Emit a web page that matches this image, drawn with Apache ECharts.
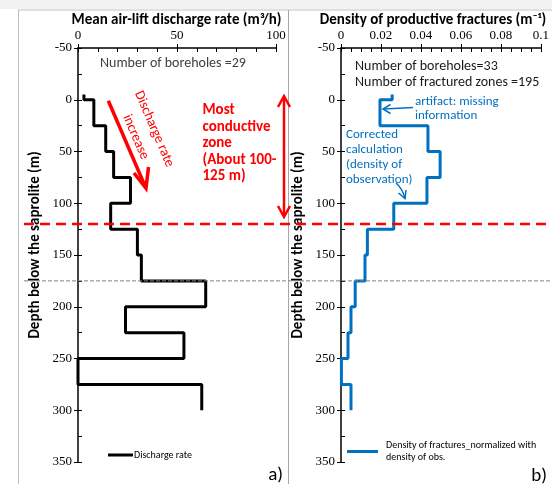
<!DOCTYPE html>
<html><head><meta charset="utf-8">
<script src="https://cdn.jsdelivr.net/npm/echarts@6/dist/echarts.min.js"></script>
<style>html,body{margin:0;padding:0;background:#fff}#c{width:552px;height:484px}</style>
</head><body><div id="c"></div>
<script>
// ---- data ----
const dischargeDepths = [-5, 0, 25, 50, 75, 100, 125, 150, 175, 200, 225, 250, 275, 300];
const dischargeValues = [3, 8, 14, 18, 26.5, 16.5, 30, 32, 64.5, 24, 53.5, 0, 62.5];
const densityDepths = [-5, 0, 25, 50, 75, 100, 125, 150, 175, 200, 225, 250, 275, 300];
const densityValues = [0.0256, 0.0195, 0.0435, 0.0496, 0.043, 0.0264, 0.0132, 0.012, 0.0071, 0.005, 0.0035, 0.0002, 0.005];
const depthRange = [-50, 350];
const depthInterval = 50;
const dischargeRange = [0, 100];
const dischargeInterval = 50;
const densityRange = [0, 0.1];
const densityInterval = 0.02;
const conductiveDepth = 120;
const boundaryDepth = 175;

const SANS = 'Carlito, Lato, "Liberation Sans", sans-serif';
const SERIF = '"Liberation Serif", "DejaVu Serif", serif';

function steps(depths, vals) {
  const pts = [];
  for (let i = 0; i < vals.length; i++) {
    pts.push([vals[i], depths[i]]);
    pts.push([vals[i], depths[i + 1]]);
  }
  return pts;
}

const grids = [
  { left: 78, top: 48, width: 198, height: 414 },
  { left: 341, top: 48, width: 201.6, height: 414 }
];

function xAxes(g, range, interval, minorSplit) {
  return [
    { gridIndex: g, type: 'value', position: 'top', min: range[0], max: range[1], interval: interval,
      axisLine: { show: true, onZero: false, lineStyle: { color: '#000', width: 1.5 } },
      axisTick: { show: true, inside: true, length: 4, lineStyle: { color: '#000', width: 1 } },
      minorTick: { show: true, splitNumber: minorSplit, length: 4, lineStyle: { color: '#000', width: 1 } },
      splitLine: { show: false },
      axisLabel: { color: '#000', fontFamily: SERIF, fontSize: 13, margin: 6 } },
    { gridIndex: g, type: 'value', position: 'top', min: range[0], max: range[1], interval: interval,
      axisLine: { show: false, onZero: false },
      axisTick: { show: true, inside: false, length: 4, lineStyle: { color: '#000', width: 1 } },
      splitLine: { show: false }, axisLabel: { show: false } }
  ];
}
function yAxes(g) {
  return [
    { gridIndex: g, type: 'value', position: 'left', inverse: true, min: depthRange[0], max: depthRange[1], interval: depthInterval,
      name: 'Depth below the saprolite (m)', nameLocation: 'middle', nameGap: 35,
      nameTextStyle: { color: '#000', fontWeight: 'bold', fontSize: 15, fontFamily: SANS, padding: [0, 0, 0, 20] },
      axisLine: { show: true, onZero: false, lineStyle: { color: '#000', width: 1.5 } },
      axisTick: { show: true, inside: true, length: 4, lineStyle: { color: '#000', width: 1 } },
      minorTick: { show: true, splitNumber: 2, length: 4, lineStyle: { color: '#000', width: 1 } },
      splitLine: { show: false },
      axisLabel: { color: '#000', fontFamily: SERIF, fontSize: 13, margin: 6 } },
    { gridIndex: g, type: 'value', position: 'left', inverse: true, min: depthRange[0], max: depthRange[1], interval: depthInterval,
      axisLine: { show: false, onZero: false },
      axisTick: { show: true, inside: false, length: 4, lineStyle: { color: '#000', width: 1 } },
      splitLine: { show: false }, axisLabel: { show: false } }
  ];
}

const chart = echarts.init(document.getElementById('c'), null, { renderer: 'canvas' });
const densityName = 'Density of fractures_normalized with density of obs.';
chart.setOption({
  backgroundColor: '#fff',
  animation: false,
  grid: grids,
  xAxis: xAxes(0, dischargeRange, dischargeInterval, 5).concat(xAxes(1, densityRange, densityInterval, 4)),
  yAxis: yAxes(0).concat(yAxes(1)),
  legend: [
    { data: ['Discharge rate'], left: 103, top: 445, icon: 'rect', itemWidth: 25, itemHeight: 3, itemGap: 0,
      textStyle: { fontSize: 10, fontFamily: SANS, color: '#000', padding: [0, 0, 0, -4] } },
    { data: [densityName], left: 342, top: 434, icon: 'rect', itemWidth: 31, itemHeight: 3, itemGap: 0,
      formatter: function (n) { return 'Density of fractures_normalized with\ndensity of obs.'; },
      textStyle: { fontSize: 10, fontFamily: SANS, color: '#000', lineHeight: 12.5, padding: [0, 0, 0, 3] } }
  ],
  series: [
    { name: 'Discharge rate', type: 'line', xAxisIndex: 0, yAxisIndex: 0, data: steps(dischargeDepths, dischargeValues),
      symbol: 'none', lineStyle: { color: '#000', width: 3 }, itemStyle: { color: '#000' }, z: 3 },
    { name: densityName, type: 'line', xAxisIndex: 2, yAxisIndex: 2, data: steps(densityDepths, densityValues),
      symbol: 'none', lineStyle: { color: '#0070C0', width: 3 }, itemStyle: { color: '#0070C0' }, z: 3 }
  ]
});

const yRed = chart.convertToPixel({ yAxisIndex: 0 }, conductiveDepth);
const yGray = chart.convertToPixel({ yAxisIndex: 0 }, boundaryDepth);
const RED = '#ff0000', BLUE = '#0070C0';

chart.setOption({
  graphic: [
    { type: 'rect', z: 0, shape: { x: 0, y: 0, width: 552, height: 9 }, style: { fill: '#f2f2f2' } },
    { type: 'line', z: 1, shape: { x1: 18, y1: 10, x2: 552, y2: 10 }, style: { stroke: '#c0c0c0', lineWidth: 1 } },
    { type: 'line', z: 1, shape: { x1: 18.5, y1: 10, x2: 18.5, y2: 484 }, style: { stroke: '#c0c0c0', lineWidth: 1 } },
    { type: 'line', z: 1, shape: { x1: 288.5, y1: 10, x2: 288.5, y2: 484 }, style: { stroke: '#a6a6a6', lineWidth: 1 } },
    // titles
    { type: 'text', z: 10, x: 176.5, y: 20, style: { text: 'Mean air-lift discharge rate (m³/h)', fill: '#000',
      font: 'bold 15px ' + SANS, align: 'center', verticalAlign: 'middle' } },
    { type: 'text', z: 10, x: 433, y: 20, style: { text: 'Density of productive fractures (m⁻¹)', fill: '#000',
      font: 'bold 15px ' + SANS, align: 'center', verticalAlign: 'middle' } },
    // left annotations
    { type: 'text', z: 10, x: 100, y: 63, style: { text: 'Number of boreholes =29', fill: '#404040',
      font: '14px ' + SANS, align: 'left', verticalAlign: 'middle' } },
    { type: 'line', z: 10, shape: { x1: 108.3, y1: 100.7, x2: 145, y2: 186 }, style: { stroke: RED, lineWidth: 3.5 } },
    { type: 'polyline', z: 10, shape: { points: [[134, 173], [146, 188.3], [148.5, 167]] }, style: { stroke: RED, lineWidth: 3.5, fill: null } },
    { type: 'text', z: 10, x: 154, y: 129, rotation: -66.7 * Math.PI / 180, style: { text: 'Discharge rate', fill: RED,
      font: '14px ' + SANS, align: 'center', verticalAlign: 'middle' } },
    { type: 'text', z: 10, x: 135.5, y: 137, rotation: -66.7 * Math.PI / 180, style: { text: 'increase', fill: RED,
      font: '14px ' + SANS, align: 'center', verticalAlign: 'middle' } },
    { type: 'text', z: 10, x: 202.5, y: 102, style: { text: 'Most\nconductive\nzone\n(About 100-\n125 m)', fill: RED,
      font: 'bold 15px ' + SANS, lineHeight: 16.6, align: 'left', verticalAlign: 'top' } },
    { type: 'line', z: 10, shape: { x1: 284, y1: 97, x2: 284, y2: 216 }, style: { stroke: RED, lineWidth: 2.5 } },
    { type: 'polyline', z: 10, shape: { points: [[278, 107], [284, 96], [290, 107]] }, style: { stroke: RED, lineWidth: 2.5, fill: null } },
    { type: 'polyline', z: 10, shape: { points: [[278, 206], [284, 217], [290, 206]] }, style: { stroke: RED, lineWidth: 2.5, fill: null } },
    // right annotations
    { type: 'text', z: 10, x: 355, y: 58.7, style: { text: 'Number of boreholes=33\nNumber of fractured zones =195', fill: '#1a1a1a',
      font: '14px ' + SANS, lineHeight: 16, align: 'left', verticalAlign: 'top' } },
    { type: 'text', z: 10, x: 415, y: 94.5, style: { text: 'artifact: missing\ninformation', fill: BLUE,
      font: '13px ' + SANS, lineHeight: 14.3, align: 'left', verticalAlign: 'top' } },
    { type: 'line', z: 10, shape: { x1: 413, y1: 107.5, x2: 384, y2: 109 }, style: { stroke: BLUE, lineWidth: 1.5 } },
    { type: 'polyline', z: 10, shape: { points: [[390.5, 104.5], [383, 109], [390.5, 113.5]] }, style: { stroke: BLUE, lineWidth: 1.5, fill: null } },
    { type: 'text', z: 10, x: 346, y: 127.8, style: { text: 'Corrected\ncalculation\n(density of\nobservation)', fill: BLUE,
      font: '13px ' + SANS, lineHeight: 14.7, align: 'left', verticalAlign: 'top' } },
    { type: 'bezierCurve', z: 10, shape: { x1: 396, y1: 183, x2: 405, y2: 198, cpx1: 402, cpy1: 188 }, style: { stroke: BLUE, lineWidth: 1.5, fill: null } },
    { type: 'polyline', z: 10, shape: { points: [[398.5, 193], [405, 198.5], [406, 190]] }, style: { stroke: BLUE, lineWidth: 1.5, fill: null } },
    // reference lines
    { type: 'line', z: 20, shape: { x1: 24, y1: yRed, x2: 552, y2: yRed }, style: { stroke: RED, lineWidth: 2.5, lineDash: [10, 6] } },
    { type: 'line', z: 20, shape: { x1: 24, y1: yGray, x2: 552, y2: yGray }, style: { stroke: '#808080', lineWidth: 1, lineDash: [4, 2] } },
    // panel labels
    { type: 'text', z: 10, x: 283, y: 475, style: { text: 'a)', fill: '#000', font: '19px ' + SANS, align: 'right', verticalAlign: 'middle' } },
    { type: 'text', z: 10, x: 547, y: 476, style: { text: 'b)', fill: '#000', font: '19px ' + SANS, align: 'right', verticalAlign: 'middle' } }
  ]
});
</script></body></html>
